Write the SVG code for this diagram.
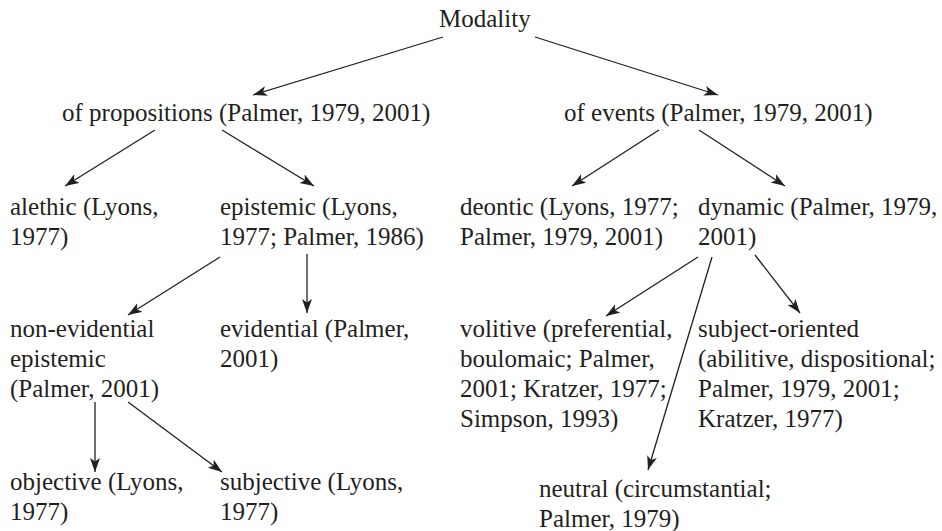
<svg xmlns="http://www.w3.org/2000/svg" width="942" height="531" viewBox="0 0 942 531">
  <style>
    text { font-family: "Liberation Serif", "Times New Roman", serif; font-size: 25px; fill: #231f20; }
    .edge { stroke: #231f20; stroke-width: 1.3; fill: none; marker-end: url(#head); }
  </style>
  <defs>
    <marker id="head" markerUnits="userSpaceOnUse" markerWidth="16" markerHeight="12" refX="14" refY="5" orient="auto">
      <path d="M0,0 L14,5 L0,10 L3.5,5 z" fill="#231f20"/>
    </marker>
  </defs>

  <!-- nodes -->
  <g id="modality"><text x="439" y="27">Modality</text></g>
  <g id="propositions"><text x="62" y="121">of propositions (Palmer, 1979, 2001)</text></g>
  <g id="events"><text x="564" y="121">of events (Palmer, 1979, 2001)</text></g>

  <g id="alethic"><text x="10" y="215">alethic (Lyons,<tspan x="10" dy="30">1977)</tspan></text></g>
  <g id="epistemic"><text x="220" y="215">epistemic (Lyons,<tspan x="220" dy="30">1977; Palmer, 1986)</tspan></text></g>
  <g id="deontic"><text x="460" y="215">deontic (Lyons, 1977;<tspan x="460" dy="30">Palmer, 1979, 2001)</tspan></text></g>
  <g id="dynamic"><text x="698" y="215">dynamic (Palmer, 1979,<tspan x="698" dy="30">2001)</tspan></text></g>

  <g id="non-evidential"><text x="10" y="337">non-evidential<tspan x="10" dy="30">epistemic</tspan><tspan x="10" dy="30">(Palmer, 2001)</tspan></text></g>
  <g id="evidential"><text x="220" y="337">evidential (Palmer,<tspan x="220" dy="30">2001)</tspan></text></g>
  <g id="volitive"><text x="460" y="337">volitive (preferential,<tspan x="460" dy="30">boulomaic; Palmer,</tspan><tspan x="460" dy="30">2001; Kratzer, 1977;</tspan><tspan x="460" dy="30">Simpson, 1993)</tspan></text></g>
  <g id="subject-oriented"><text x="698" y="337">subject-oriented<tspan x="698" dy="30">(abilitive, dispositional;</tspan><tspan x="698" dy="30">Palmer, 1979, 2001;</tspan><tspan x="698" dy="30">Kratzer, 1977)</tspan></text></g>

  <g id="objective"><text x="10" y="490">objective (Lyons,<tspan x="10" dy="30">1977)</tspan></text></g>
  <g id="subjective"><text x="220" y="490">subjective (Lyons,<tspan x="220" dy="30">1977)</tspan></text></g>
  <g id="neutral"><text x="539" y="497">neutral (circumstantial;<tspan x="539" dy="30">Palmer, 1979)</tspan></text></g>

  <!-- connectors -->
  <g id="connectors">
    <line class="edge" x1="443" y1="37" x2="253" y2="95"/>
    <line class="edge" x1="535" y1="37" x2="718" y2="95"/>
    <line class="edge" x1="155" y1="130" x2="65" y2="186"/>
    <line class="edge" x1="222" y1="130" x2="314" y2="186"/>
    <line class="edge" x1="659" y1="130" x2="572" y2="186"/>
    <line class="edge" x1="699" y1="130" x2="785" y2="186"/>
    <line class="edge" x1="220" y1="257" x2="128" y2="315"/>
    <line class="edge" x1="307" y1="254" x2="307" y2="313"/>
    <line class="edge" x1="698" y1="257" x2="606" y2="316"/>
    <line class="edge" x1="712" y1="257" x2="648" y2="470"/>
    <line class="edge" x1="755" y1="255" x2="800" y2="313"/>
    <line class="edge" x1="95" y1="402" x2="95" y2="472"/>
    <line class="edge" x1="128" y1="402" x2="222" y2="472"/>
  </g>
</svg>
